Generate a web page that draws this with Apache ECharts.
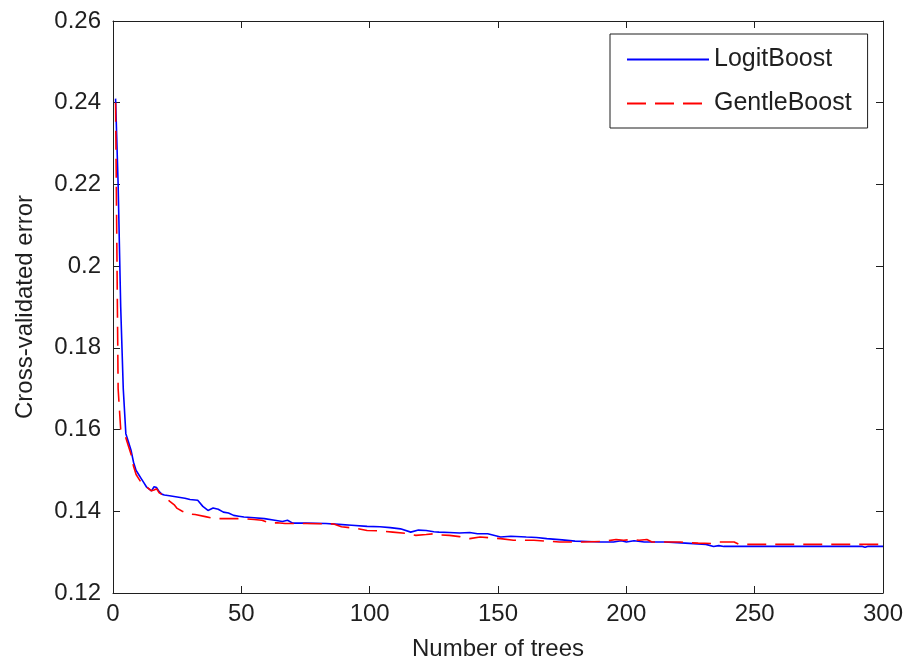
<!DOCTYPE html>
<html>
<head>
<meta charset="utf-8">
<script src="https://cdn.jsdelivr.net/npm/echarts@6/dist/echarts.min.js"></script>
<style>
html,body{margin:0;padding:0;background:#fff;}
#chart{width:912px;height:661px;}
</style>
</head>
<body>
<div id="chart"></div>
<script>
// ---- data ----
const seriesNames = ['LogitBoost', 'GentleBoost'];
const logitTrees = [1,2,3,4,5,6,7,8,9,10,11,12,13,14,15,16,17,18,19,20,22,25,28,30,33,35,37,39,41,43,45,47,49,51,55,59,63,66,68,70,75,83,88,93,99,104,108,112,116,119,122,125,127,131,135,139,142,146,151,155,161,165,169,175,180,185,190,195,198,200,203,207,215,223,231,234,236,238,244,250,260,280,292,293,294,300];
const logitError = [0.241,0.220,0.190,0.170,0.159,0.157,0.155,0.152,0.150,0.149,0.148,0.147,0.146,0.1455,0.145,0.146,0.1458,0.1448,0.1442,0.1440,0.1438,0.1435,0.1432,0.1429,0.1427,0.1412,0.1402,0.1408,0.1405,0.1398,0.1396,0.1390,0.1388,0.1386,0.1384,0.1382,0.1378,0.1375,0.1378,0.1371,0.1371,0.1370,0.1368,0.1366,0.1363,0.1362,0.1360,0.1357,0.1349,0.1354,0.1353,0.1350,0.1349,0.1348,0.1347,0.1348,0.1345,0.1345,0.1337,0.1339,0.1337,0.1336,0.1333,0.1330,0.1327,0.1326,0.1325,0.1325,0.1328,0.1325,0.1328,0.1325,0.1325,0.1322,0.1319,0.1314,0.1316,0.1314,0.1314,0.1314,0.1314,0.1314,0.1314,0.1312,0.1314,0.1314];
const gentleTrees = [1,2,3,4,5,6,7,8,9,10,11,12,13,14,15,16,17,18,20,22,24,25,27,29,32,36,38,40,46,51,55,58,61,64,67,75,86,89,95,99,104,109,114,118,122,125,128,131,135,139,143,147,151,156,164,169,174,183,190,193,196,199,202,205,208,210,221,224,228,233,236,242,244,300];
const gentleError = [0.240,0.170,0.160,0.159,0.158,0.156,0.154,0.151,0.149,0.148,0.147,0.1465,0.146,0.1455,0.145,0.1452,0.1455,0.1445,0.1438,0.1425,0.1415,0.1407,0.1400,0.1394,0.1392,0.1387,0.1384,0.1382,0.1382,0.1382,0.1380,0.1378,0.1371,0.1372,0.1370,0.1370,0.1369,0.1362,0.1358,0.1353,0.1352,0.1349,0.1346,0.1341,0.1343,0.1345,0.1342,0.1341,0.1338,0.1333,0.1337,0.1335,0.1333,0.1329,0.1329,0.1327,0.1325,0.1325,0.1326,0.1328,0.1331,0.1329,0.1331,0.1329,0.1331,0.1325,0.1325,0.1323,0.1322,0.1321,0.1325,0.1325,0.1319,0.1319];
const xTicks = [0, 50, 100, 150, 200, 250, 300];
const yTicks = [0.12, 0.14, 0.16, 0.18, 0.20, 0.22, 0.24, 0.26];
const xTitle = 'Number of trees';
const yTitle = 'Cross-validated error';

const FONT = "'Liberation Sans', Arial, Helvetica, sans-serif";
const INK = '#1f1f1f';
const chart = echarts.init(document.getElementById('chart'), null, {renderer: 'canvas'});

const zip = (xs, ys) => xs.map((x, i) => [x, ys[i]]);
const xStep = xTicks[1] - xTicks[0];
const yStep = +(yTicks[1] - yTicks[0]).toFixed(4);

const axisCommon = {
  axisLine: {show: true, onZero: false, lineStyle: {color: INK, width: 1}},
  axisTick: {show: true, inside: true, length: 7, lineStyle: {color: INK, width: 1}},
  splitLine: {show: false}
};

chart.setOption({
  animation: false,
  backgroundColor: '#ffffff',
  grid: {left: 113, right: 29, top: 21, bottom: 68, containLabel: false, outerBoundsMode: 'none'},
  legend: {
    data: seriesNames,
    orient: 'vertical',
    left: 610, top: 34,
    padding: [13, 16, 12, 16],
    itemGap: 19,
    itemWidth: 82, itemHeight: 20,
    itemTextGap: 6,
    borderColor: INK, borderWidth: 1,
    backgroundColor: '#fff',
    itemStyle: {opacity: 0},
    textStyle: {fontFamily: FONT, fontSize: 25, color: INK}
  },
  xAxis: [
    Object.assign({}, axisCommon, {
      type: 'value', position: 'bottom', min: xTicks[0], max: xTicks[xTicks.length - 1], interval: xStep,
      axisLabel: {fontFamily: FONT, fontSize: 24, color: INK, margin: 9},
      name: xTitle, nameLocation: 'middle', nameGap: 44,
      nameTextStyle: {fontFamily: FONT, fontSize: 24, color: INK}
    }),
    Object.assign({}, axisCommon, {
      type: 'value', position: 'top', min: xTicks[0], max: xTicks[xTicks.length - 1], interval: xStep,
      axisLabel: {show: false}
    })
  ],
  yAxis: [
    Object.assign({}, axisCommon, {
      type: 'value', position: 'left', min: yTicks[0], max: yTicks[yTicks.length - 1], interval: yStep,
      axisLabel: {fontFamily: FONT, fontSize: 24, color: INK, margin: 12,
        formatter: v => String(+v.toFixed(2))},
      name: yTitle, nameLocation: 'middle', nameGap: 76, nameRotate: 90,
      nameTextStyle: {fontFamily: FONT, fontSize: 24, color: INK}
    }),
    Object.assign({}, axisCommon, {
      type: 'value', position: 'right', min: yTicks[0], max: yTicks[yTicks.length - 1], interval: yStep,
      axisLabel: {show: false}
    })
  ],
  series: [
    {
      name: seriesNames[0], type: 'line', xAxisIndex: 0, yAxisIndex: 0,
      data: zip(logitTrees, logitError),
      symbol: 'none', showSymbol: false,
      lineStyle: {color: '#0000ff', width: 1.6, type: 'solid'},
      itemStyle: {color: '#0000ff'},
      z: 3
    },
    {
      name: seriesNames[1], type: 'line', xAxisIndex: 0, yAxisIndex: 0,
      data: zip(gentleTrees, gentleError),
      symbol: 'none', showSymbol: false,
      lineStyle: {color: '#ff0000', width: 1.6, type: [19, 9]},
      itemStyle: {color: '#ff0000'},
      z: 4
    }
  ]
});
</script>
</body>
</html>
